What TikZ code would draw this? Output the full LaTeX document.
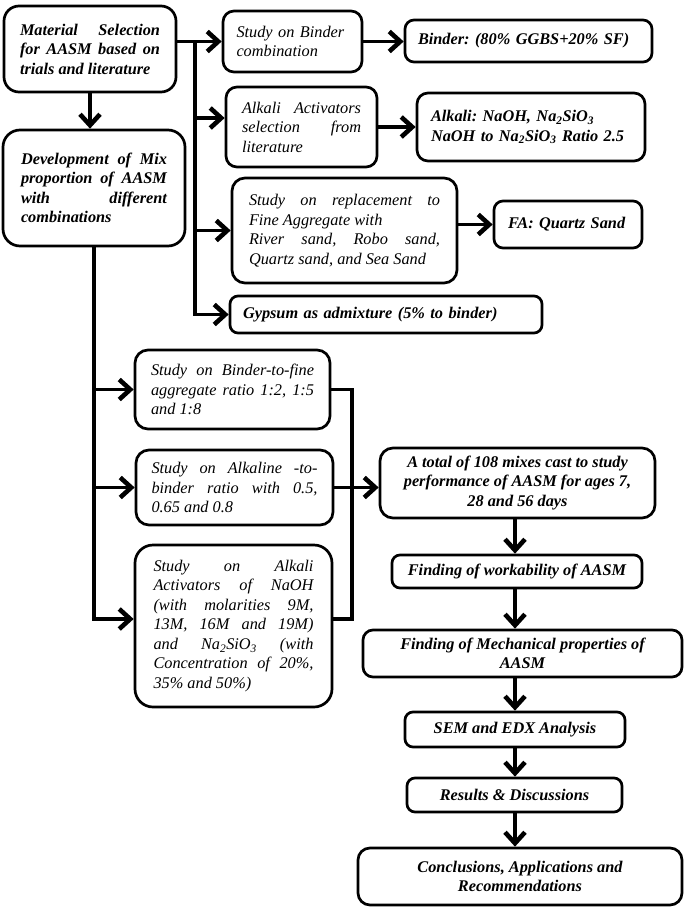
\documentclass[tikz,border=0pt]{standalone}
\usepackage{fontspec}
\setmainfont{Liberation Serif}
\usetikzlibrary{arrows.meta}
\tolerance=10000
\hyphenpenalty=10000
\exhyphenpenalty=10000
\hbadness=10000
\frenchspacing
\tikzset{
  bx/.style={draw, line width=2.7pt, rounded corners=11pt, inner xsep=0pt, inner ysep=2pt,
    font=\fontsize{16.3}{19.5}\selectfont\frenchspacing\itshape},
  bb/.style={bx, font=\fontsize{16.3}{19.5}\selectfont\frenchspacing\bfseries\itshape},
  ln/.style={line width=3.2pt},
  arr/.style={line width=3.2pt, -{Straight Barb[length=11pt,width=20pt,line width=4.6pt]}}
}
\begin{document}
\begin{tikzpicture}[x=1pt,y=-1pt]
\useasboundingbox (0,0) rectangle (685,908);
% left column
\node[bb, rounded corners=15pt, minimum width=172, minimum height=86, text width=140, align=justify] (b1) at (90,49)
  {Material Selection\linebreak for AASM based on\linebreak trials and literature};
\node[bb, rounded corners=17pt, minimum width=182, minimum height=116, text width=146, align=justify] (b2) at (94,188)
  {Development of Mix\linebreak proportion of AASM\linebreak with different\linebreak combinations};
% first branch
\node[bx, minimum width=139, minimum height=61, text width=112, align=left] (b3) at (292.5,41.5)
  {Study on Binder\\combination};
\node[bb, rounded corners=9pt, minimum width=247, minimum height=42, text width=221, align=left] (b4) at (528.5,41)
  {Binder: (80\% GGBS+20\% SF)};
\node[bx, minimum width=151, minimum height=80, text width=119, align=justify] (b5) at (301.5,127)
  {Alkali Activators\linebreak selection from\linebreak literature};
\node[bb, minimum width=228, minimum height=68, text width=200, align=left] (b6) at (531,127)
  {Alkali: NaOH, Na\textsubscript{2}SiO\textsubscript{3}\\NaOH to Na\textsubscript{2}SiO\textsubscript{3} Ratio 2.5};
\node[bx, rounded corners=13pt, minimum width=225, minimum height=105, text width=191, align=justify] (b7) at (344.5,230.5)
  {Study on replacement to\linebreak Fine Aggregate with\\River sand, Robo sand,\linebreak Quartz sand, and Sea Sand};
\node[bb, rounded corners=9pt, minimum width=148, minimum height=47, text width=120, align=left] (b8) at (568,224.5)
  {FA: Quartz Sand};
\node[bb, rounded corners=8pt, minimum width=312, minimum height=37, text width=286, align=left] (b9) at (386,314.5)
  {Gypsum as admixture (5\% to binder)};
% second branch
\node[bx, rounded corners=13pt, minimum width=195, minimum height=79, text width=163, align=justify] (b10) at (232.5,389.5)
  {Study on Binder-to-fine\linebreak aggregate ratio 1:2, 1:5\linebreak and 1:8};
\node[bx, rounded corners=13pt, minimum width=197, minimum height=75, text width=166, align=justify] (b11) at (234.5,487.5)
  {Study on Alkaline -to-\linebreak binder ratio with 0.5,\linebreak 0.65 and 0.8};
\node[bx, rounded corners=18pt, minimum width=197, minimum height=162, text width=160, align=justify] (b12) at (233.5,626)
  {Study on Alkali\linebreak Activators of NaOH\linebreak (with molarities 9M,\linebreak 13M, 16M and 19M)\linebreak and Na\textsubscript{2}SiO\textsubscript{3} (with\linebreak Concentration of 20\%,\linebreak 35\% and 50\%)};
% right column
\node[bb, rounded corners=13pt, minimum width=275, minimum height=70, align=center] (b13) at (517.5,483)
  {A total of 108 mixes cast to study\\performance of AASM for ages 7,\\28 and 56 days};
\node[bb, rounded corners=8pt, minimum width=250, minimum height=33, align=center] (b14) at (517,571.5)
  {Finding of workability of AASM};
\node[bb, rounded corners=10pt, minimum width=319, minimum height=47, align=center] (b15) at (522.5,653.5)
  {Finding of Mechanical properties of\\AASM};
\node[bb, rounded corners=8pt, minimum width=220, minimum height=35, align=center] (b16) at (515,729.5)
  {SEM and EDX Analysis};
\node[bb, rounded corners=8pt, minimum width=215, minimum height=34, align=center] (b17) at (514.5,795)
  {Results \& Discussions};
\node[bb, rounded corners=12pt, minimum width=324, minimum height=57, align=center] (b18) at (520,876.5)
  {Conclusions, Applications and\\Recommendations};
% connector helpers
\coordinate (t) at (195,0);
\coordinate (r) at (352,0);
\coordinate (c) at (515,0);
\coordinate (p5) at ([yshift=9pt]b5.west);
\coordinate (p12w) at ([yshift=7pt]b12.west);
\coordinate (p12e) at ([yshift=7pt]b12.east);
% connectors
\draw[arr] (b1.south) -- (b1.south |- b2.north);
\draw[arr] (b1.east |- b3.west) -- (b3.west);
\draw[arr] (b3.west -| t) |- (b9.west);
\draw[arr] (p5 -| t) -- (p5);
\draw[arr] (b7.west -| t) -- (b7.west);
\draw[arr] (b3.east) -- (b3.east -| b4.west);
\draw[arr] (b5.east) -- (b5.east -| b6.west);
\draw[arr] (b8.west -| b7.east) -- (b8.west);
\draw[arr] (b2.south) |- (p12w);
\draw[arr] (b10.west -| b2.south) -- (b10.west);
\draw[arr] (b11.west -| b2.south) -- (b11.west);
\draw[ln] (b10.east) -| (p12e -| r) -- (p12e);
\draw[arr] (b11.east) -- (b11.east -| b13.west);
\draw[arr] (b13.south -| c) -- (b14.north -| c);
\draw[arr] (b14.south -| c) -- (b15.north -| c);
\draw[arr] (b15.south -| c) -- (b16.north -| c);
\draw[arr] (b16.south -| c) -- (b17.north -| c);
\draw[arr] (b17.south -| c) -- (b18.north -| c);
\end{tikzpicture}
\end{document}
